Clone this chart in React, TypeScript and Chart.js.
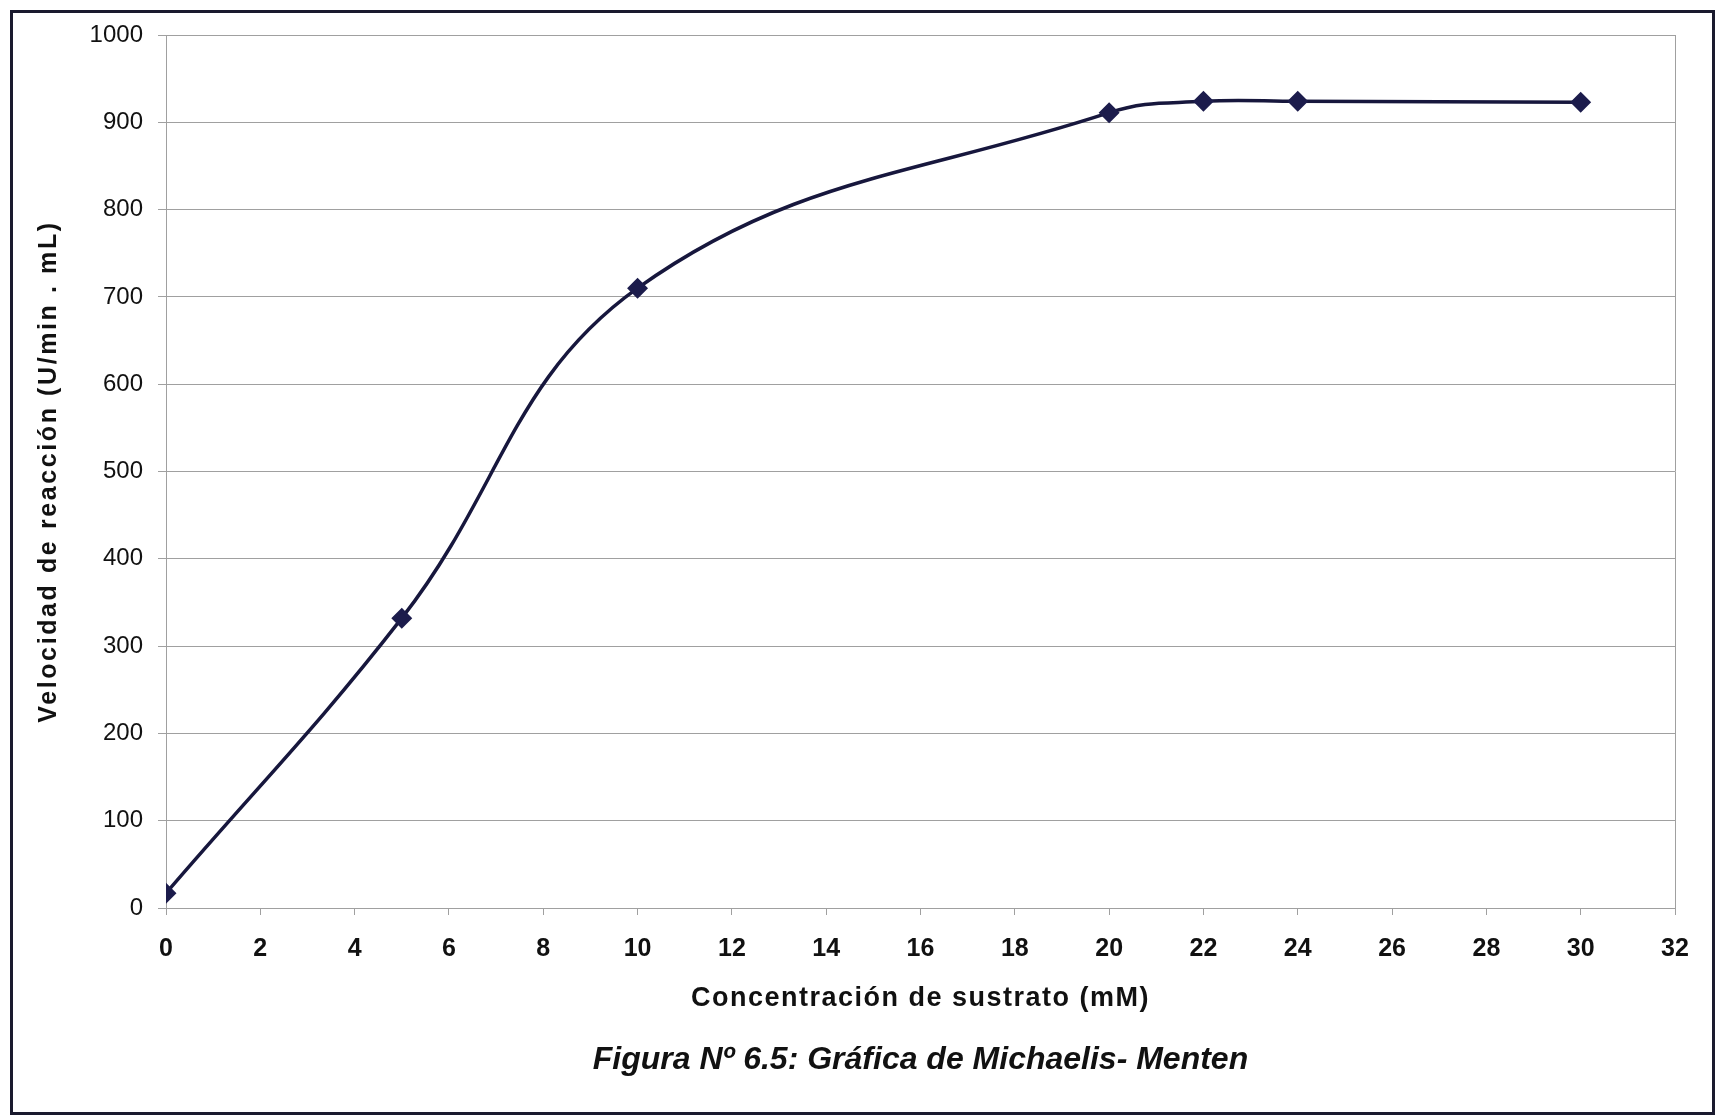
import React, { useEffect, useRef } from "react";
import { Chart, registerables } from "chart.js";

Chart.register(...registerables);

const concentrations = [0, 5, 10, 20, 22, 24, 30];
const velocities = [17, 332, 710, 911, 924, 924, 923];
const xTickMax = 32;
const yTickMax = 1000;
const xTitle = "Concentración de sustrato (mM)";
const yTitle = "Velocidad de reacción (U/min . mL)";
const caption = "Figura Nº 6.5: Gráfica de Michaelis- Menten";

const FONT = "'Liberation Sans', Arial, sans-serif";
const GRID = "#a0a0a0";
const LINE = "#17173d";

function wrapTitleSpacing(scale: any, spacing: string) {
  if (!scale || scale.__spacingWrapped) return;
  const orig = scale.drawTitle.bind(scale);
  scale.drawTitle = () => {
    const ctx = scale.ctx as any;
    const prev = ctx.letterSpacing;
    ctx.letterSpacing = spacing;
    orig();
    ctx.letterSpacing = prev || "0px";
  };
  scale.__spacingWrapped = true;
}

const spacingPlugin = {
  id: "titleSpacing",
  afterLayout(chart: any) {
    wrapTitleSpacing(chart.scales.x, "1.5px");
    wrapTitleSpacing(chart.scales.y, "2.6px");
  },
};

const captionPlugin = {
  id: "captionText",
  afterDraw(chart: any) {
    const { ctx, chartArea } = chart;
    ctx.save();
    ctx.font = `italic bold 32px ${FONT}`;
    ctx.fillStyle = "#111";
    ctx.textAlign = "center";
    ctx.textBaseline = "middle";
    ctx.fillText(caption, (chartArea.left + chartArea.right) / 2, 1047);
    ctx.restore();
  },
};

export default function App() {
  const ref = useRef<HTMLCanvasElement | null>(null);

  useEffect(() => {
    if (!ref.current) return;
    const chart = new Chart(ref.current, {
      type: "line",
      data: {
        datasets: [
          {
            data: concentrations.map((x, i) => ({ x, y: velocities[i] })),
            borderColor: LINE,
            borderWidth: 3.5,
            backgroundColor: LINE,
            pointStyle: "rectRot",
            pointRadius: 8,
            pointBackgroundColor: "#1c1c4c",
            pointBorderColor: "#1c1c4c",
            tension: 0.4,
            fill: false,
          },
        ],
      },
      plugins: [spacingPlugin, captionPlugin],
      options: {
        animation: false,
        responsive: true,
        maintainAspectRatio: false,
        layout: { padding: { left: 0, top: 22, right: 37, bottom: 0 } },
        plugins: {
          legend: { display: false },
          tooltip: { enabled: false },
          title: { display: false },
        },
        scales: {
          x: {
            type: "linear",
            min: 0,
            max: xTickMax,
            afterFit: (scale: any) => {
              scale.height = 204;
            },
            ticks: {
              stepSize: 2,
              color: "#111",
              padding: 19,
              maxRotation: 0,
              font: { family: FONT, size: 25, weight: "bold" },
            },
            grid: {
              drawOnChartArea: true,
              color: (ctx: any) =>
                ctx.tick && ctx.tick.value === xTickMax ? GRID : "rgba(0,0,0,0)",
              tickColor: GRID,
              tickLength: 7,
              lineWidth: 1,
            },
            border: { display: true, color: GRID, width: 1 },
            title: {
              display: true,
              text: xTitle,
              color: "#111",
              font: { family: FONT, size: 27, weight: "bold" },
              padding: { top: 10, bottom: 97 },
            },
          },
          y: {
            min: 0,
            max: yTickMax,
            afterFit: (scale: any) => {
              scale.width = 153;
              scale.paddingTop = 0;
              scale.paddingBottom = 0;
            },
            ticks: {
              stepSize: 100,
              color: "#111",
              padding: 15,
              font: { family: FONT, size: 24 },
              callback: (v: any) => String(v),
            },
            grid: {
              color: GRID,
              lineWidth: 1,
              tickLength: 8,
              tickColor: GRID,
            },
            border: { display: true, color: GRID, width: 1 },
            title: {
              display: true,
              text: yTitle,
              color: "#111",
              font: { family: FONT, size: 25, weight: "bold" },
              padding: { top: 21, bottom: 0 },
            },
          },
        },
      },
    });
    return () => chart.destroy();
  }, []);

  return (
    <div
      style={{
        position: "absolute",
        left: 10,
        top: 10,
        width: 1699,
        height: 1099,
        border: "3px solid #1a1a2e",
        background: "#fff",
      }}
    >
      <canvas ref={ref} />
    </div>
  );
}
